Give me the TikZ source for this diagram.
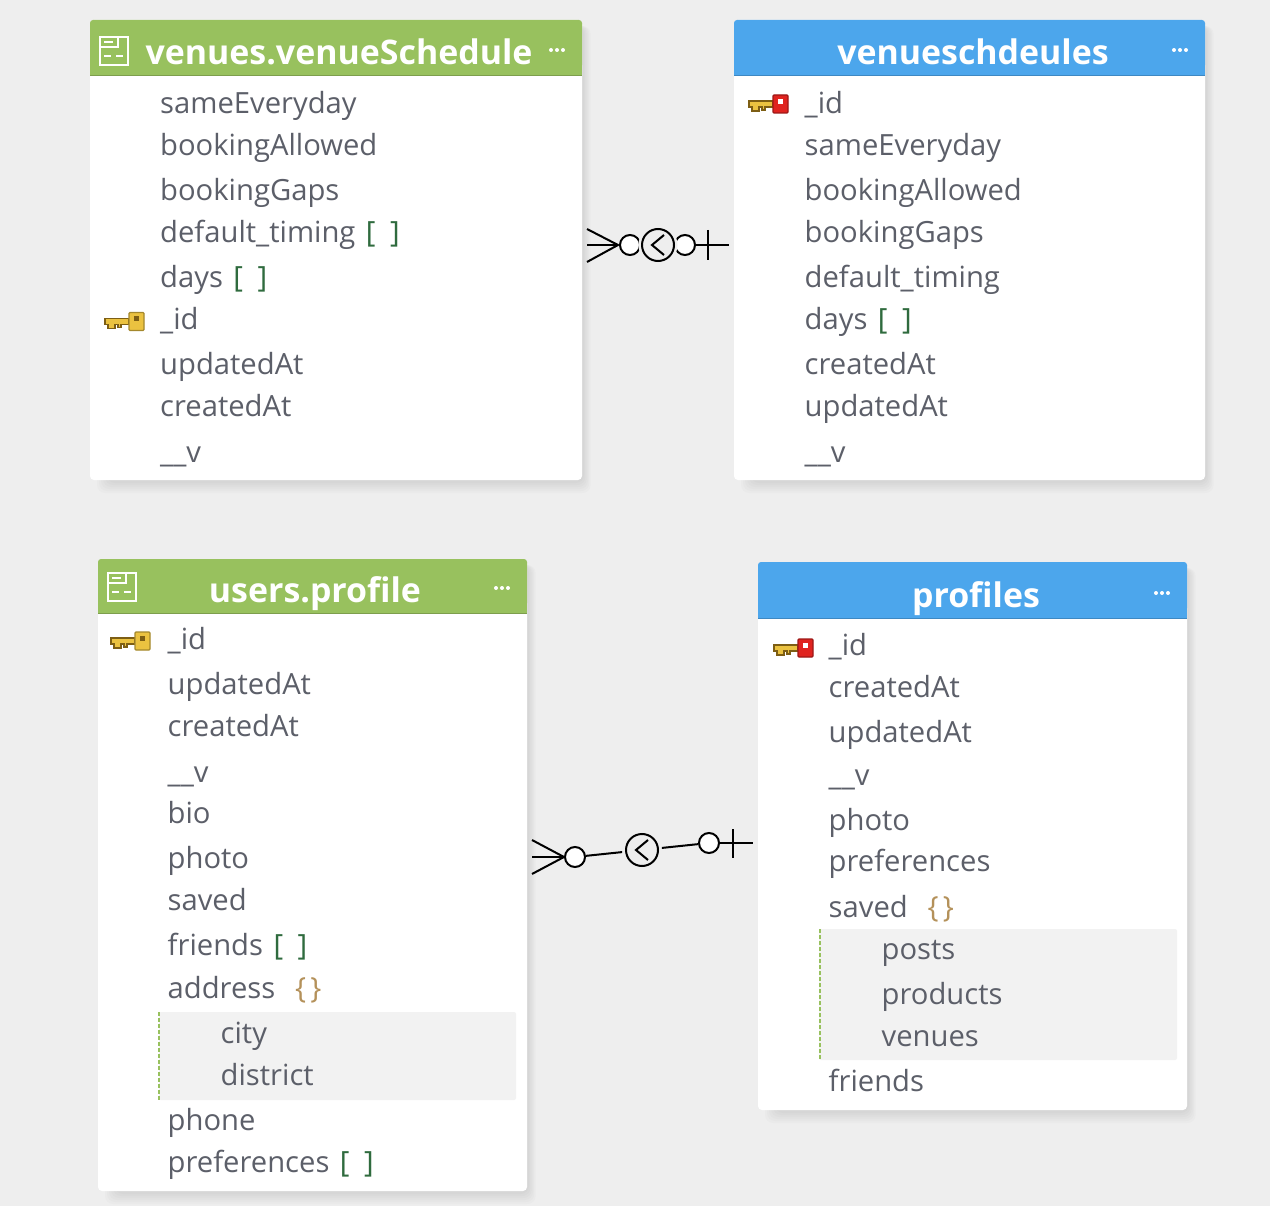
\documentclass[tikz,border=0pt]{standalone}
\usepackage{fontspec}
\setmainfont{Open Sans}
\definecolor{paneback}{HTML}{EEEEEE}
\definecolor{embedgreen}{HTML}{98C15E}
\definecolor{collblue}{HTML}{4CA6EC}
\definecolor{rowtext}{HTML}{5C5F69}
\definecolor{arrgreen}{HTML}{2F6B3E}
\definecolor{objtan}{HTML}{B4915A}
\definecolor{nestback}{HTML}{F2F2F2}
\definecolor{keygold}{HTML}{EBC240}
\definecolor{keyedge}{HTML}{7D5E14}
\definecolor{keyred}{HTML}{E0231F}
\newcommand{\arr}{\textcolor{arrgreen}{\hspace{0.36em}[\hspace{0.5em}]}}
\newcommand{\obj}{\textcolor{objtan}{\hspace{0.68em}\{\hspace{0.14em}\}}}
\newcommand{\tablebox}[6]{%
  \foreach \s in {13,11,9,7,5,3} {
    \fill[black, opacity=0.016, rounded corners=8] (#1+20-\s,#2+6) rectangle (#3+\s/1.5,#4+\s);
  }
  \fill[white, rounded corners=4] (#1,#2) rectangle (#3,#4);
  \fill[#6, rounded corners=3] (#1,#2) rectangle (#3,#5-8);
  \fill[#6] (#1,#2+6) rectangle (#3,#5);
  \draw[#6!82!black, line width=1] (#1,#5-0.5) -- (#3,#5-0.5);
  \fill[white] (#3-31,#5-26) circle (2) (#3-25,#5-26) circle (2) (#3-19,#5-26) circle (2);
}
\newcommand{\keyicon}[4]{%
  \fill[keygold, draw=keyedge, line width=1.3] (#1,#2-3) -- (#1+24,#2-3) -- (#1+24,#2+3) -- (#1+16,#2+3)
    -- (#1+16,#2+6) -- (#1+13,#2+6) -- (#1+13,#2+3) -- (#1+10,#2+3) -- (#1+10,#2+7) -- (#1+6,#2+7) -- (#1+6,#2+7)
    -- (#1+3,#2+7) -- (#1+3,#2+3) -- (#1,#2+3) -- cycle;
  \fill[#3, draw=#3!70!black, line width=1.3, rounded corners=1] (#1+24,#2-9) rectangle (#1+39,#2+9);
  \fill[#4] (#1+29,#2-5) rectangle (#1+34,#2);
}
\newcommand{\viewicon}[2]{%
  \draw[white, line width=1.5] (#1,#2) rectangle (#1+28,#2+28);
  \draw[white, line width=1.5] (#1,#2+10) -- (#1+18,#2+10) -- (#1+18,#2);
  \draw[white, line width=1.5] (#1+4,#2+5) -- (#1+13,#2+5);
  \draw[white, line width=1.5] (#1+4,#2+19) -- (#1+11,#2+19) (#1+16,#2+19) -- (#1+23,#2+19);
}
\tikzset{
  rowlabel/.style={anchor=base west, inner sep=0pt, text=rowtext, font=\fontsize{29.2}{32}\selectfont},
  tabletitle/.style={anchor=base, inner sep=0pt, text=white, font=\fontsize{33.9}{36}\selectfont\bfseries},
  relline/.style={black, line width=2},
  optcircle/.style={circle, draw=black, fill=white, line width=2, minimum size=20, inner sep=0pt},
  hubcircle/.style={circle, draw=black, fill=paneback, line width=2, minimum size=32, inner sep=0pt},
  hubhalo/.style={circle, fill=paneback, minimum size=39, inner sep=0pt},
}
\begin{document}
\begin{tikzpicture}[x=1pt, y=-1pt]
    \useasboundingbox (0,0) rectangle (1270,1206);
    \fill[paneback] (0,0) rectangle (1270,1206);
    %% --- Table boxes ---
    \tablebox{90}{20}{582}{480}{76}{embedgreen}
    \tablebox{734}{20}{1205}{480}{76}{collblue}
    \tablebox{98}{559}{527}{1191}{614}{embedgreen}
    \tablebox{758}{562}{1187}{1110}{619}{collblue}
    %% nested rows
    \fill[nestback, rounded corners=2] (159,1012) rectangle (516,1100);
    \draw[embedgreen, line width=2, dash pattern=on 4 off 2] (158.5,1012) -- (158.5,1100);
    \fill[nestback, rounded corners=2] (819,929) rectangle (1177,1060);
    \draw[embedgreen, line width=2, dash pattern=on 4 off 2] (819.5,929) -- (819.5,1060);
    %% --- Titles ---
    \node[tabletitle] (venuesched) at (339,65) {venues.venueSchedule};
    \node[tabletitle] (venuecoll) at (973,65) {venueschdeules};
    \node[tabletitle] (userprofile) at (315,602.5) {users.profile};
    \node[tabletitle] (profilecoll) at (976,607.5) {profiles};
    \viewicon{100}{37}
    \viewicon{108}{573}
    %% --- Rows ---
    \foreach \y/\t [count=\i] in {114/sameEveryday, 156/bookingAllowed, 201/bookingGaps,
        243/{default\_timing\arr}, 288/{days\arr}, 330/{\_id}, 375/updatedAt, 417/createdAt, 462.5/{\_\_v}} {
      \node[rowlabel] (sa\i) at (160,\y) {\t};
    }
    \foreach \y/\t [count=\i] in {114/{\_id}, 156/sameEveryday, 201/bookingAllowed, 243/bookingGaps,
        288/{default\_timing}, 330/{days\arr}, 375/createdAt, 417/updatedAt, 462.5/{\_\_v}} {
      \node[rowlabel] (sb\i) at (804.5,\y) {\t};
    }
    \foreach \x/\y/\t [count=\i] in {167.5/649.5/{\_id}, 167.5/694.5/updatedAt, 167.5/736.5/createdAt, 167.5/782.5/{\_\_v},
        167.5/823.5/bio, 167.5/868.5/photo, 167.5/910.5/saved, 167.5/955.5/{friends\arr}, 167.5/998.5/{address\obj},
        220.5/1043.5/city, 220.5/1085.5/district, 167.5/1130.5/phone, 167.5/1172.5/{preferences\arr}} {
      \node[rowlabel] (pa\i) at (\x,\y) {\t};
    }
    \foreach \x/\y/\t [count=\i] in {828.5/655.5/{\_id}, 828.5/697.5/createdAt, 828.5/742.5/updatedAt, 828.5/785.5/{\_\_v},
        828.5/830.5/photo, 828.5/871.5/preferences, 828.5/917.5/{saved\obj}, 881.5/959.5/posts, 881.5/1004.5/products,
        881.5/1046.5/venues, 828.5/1091.5/friends} {
      \node[rowlabel] (pb\i) at (\x,\y) {\t};
    }
    %% --- Key icons ---
    \keyicon{105}{321.5}{keygold}{keyedge}
    \keyicon{749}{104}{keyred}{white}
    \keyicon{111}{641}{keygold}{keyedge}
    \keyicon{774}{648}{keyred}{white}
    %% --- Upper relation ---
    \coordinate (crowtopa) at (587,229);
    \coordinate (crowmida) at (587,245);
    \coordinate (crowbota) at (587,262);
    \coordinate (crowtipa) at (618,245);
    \coordinate (barenda) at (729,245);
    \node[optcircle] (opta) at (630,245) {};
    \node[optcircle] (optb) at (685,245) {};
    \node[hubhalo] (haloa) at (658,245) {};
    \node[hubcircle] (huba) at (658,245) {};
    \draw[relline] (crowtopa) -- (crowtipa) -- (crowbota);
    \draw[relline] (crowmida) -- (crowtipa);
    \draw[relline] (optb) -- (barenda);
    \draw[relline] (708,230) -- (708,260);
    \draw[relline] (664,235) -- (652,245) -- (664,255);
    %% --- Lower relation ---
    \coordinate (crowtopb) at (532,840);
    \coordinate (crowmidb) at (532,857);
    \coordinate (crowbotb) at (532,874);
    \coordinate (barendb) at (753,843);
    \node[optcircle] (optc) at (575,857) {};
    \node[optcircle] (optd) at (709,843) {};
    \node[hubcircle] (hubb) at (642,850) {};
    \draw[relline] (crowtopb) -- (optc.west) -- (crowbotb);
    \draw[relline] (crowmidb) -- (optc);
    \draw[relline, shorten >=3] (optc) -- (hubb);
    \draw[relline, shorten >=3] (optd) -- (hubb);
    \draw[relline] (optd) -- (barendb);
    \draw[relline] (733,829) -- (733,858);
    \draw[relline] (648,840) -- (636,850) -- (648,860);
\end{tikzpicture}
\end{document}
